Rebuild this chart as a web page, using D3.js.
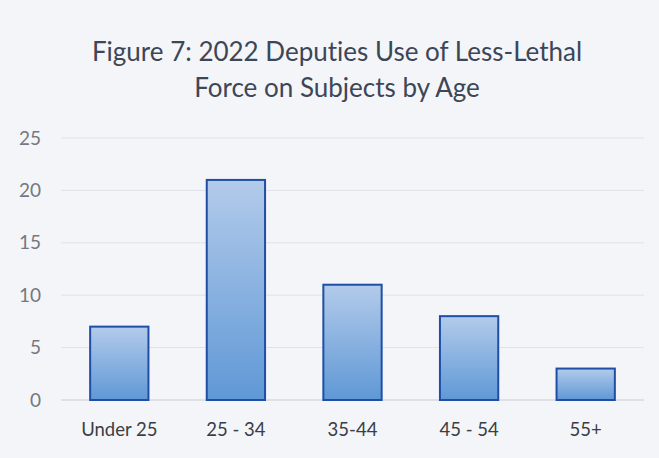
<!DOCTYPE html>
<html>
<head>
<meta charset="utf-8">
<script src="https://cdn.jsdelivr.net/npm/d3@7"></script>
<style>
  html, body { margin: 0; padding: 0; background: #f4f5f8; }
  svg { display: block; }
  text { font-variant-ligatures: none; }
</style>
</head>
<body>
<svg width="659" height="458"></svg>
<script>
const ageGroups = ["Under 25", "25 - 34", "35-44", "45 - 54", "55+"];
const subjects = [7, 21, 11, 8, 3];
const yTicks = [0, 5, 10, 15, 20, 25];
const titleLines = ["Figure 7: 2022 Deputies Use of Less-Lethal", "Force on Subjects by Age"];

const svg = d3.select("svg");
const font = "Lato, 'Open Sans', sans-serif";

svg.append("rect")
  .attr("width", 659).attr("height", 458)
  .attr("fill", "#f4f5f8");

// bar gradient, light at the top and deeper at the bottom
const grad = svg.append("defs").append("linearGradient")
  .attr("id", "barFill")
  .attr("x1", 0).attr("y1", 0).attr("x2", 0).attr("y2", 1);
grad.append("stop").attr("offset", "0%").attr("stop-color", "#b3cbea");
grad.append("stop").attr("offset", "100%").attr("stop-color", "#5f98d6");

const x = d3.scaleBand()
  .domain(ageGroups)
  .range([61, 644])
  .paddingInner(0.5)
  .paddingOuter(0.25);

const y = d3.scaleLinear()
  .domain([0, 25])
  .range([400, 138]);

// gridlines
svg.append("g")
  .selectAll("line")
  .data(yTicks)
  .join("line")
  .attr("x1", 61).attr("x2", 644)
  .attr("y1", (d) => y(d)).attr("y2", (d) => y(d))
  .attr("stroke", (d) => (d === 0 ? "#c9ccd4" : "#dfe2e8"))
  .attr("stroke-width", 1);

// y axis labels
const yAxis = svg.append("g")
  .attr("transform", "translate(41,0)")
  .call(d3.axisLeft(y).tickValues(yTicks).tickSize(0).tickPadding(0));
yAxis.select(".domain").remove();
yAxis.selectAll("text")
  .attr("font-family", font)
  .attr("font-size", 19)
  .attr("fill", "#74787f");

// x axis labels
const xAxis = svg.append("g")
  .attr("transform", "translate(0,423)")
  .call(d3.axisBottom(x).tickSize(0).tickPadding(0));
xAxis.select(".domain").remove();
xAxis.selectAll("text")
  .attr("font-family", font)
  .attr("font-size", 18.5)
  .attr("fill", "#3a3d45");

// bars
svg.append("g")
  .selectAll("rect")
  .data(subjects)
  .join("rect")
  .attr("x", (d, i) => x(ageGroups[i]))
  .attr("width", x.bandwidth())
  .attr("y", (d) => y(d))
  .attr("height", (d) => y(0) - y(d))
  .attr("fill", "url(#barFill)")
  .attr("stroke", "#1f4ea6")
  .attr("stroke-width", 2);

// title
svg.append("g")
  .selectAll("text")
  .data(titleLines)
  .join("text")
  .attr("x", 337)
  .attr("y", (d, i) => 61 + i * 36)
  .attr("text-anchor", "middle")
  .attr("font-family", font)
  .attr("font-size", 26)
  .attr("fill", "#3d4657")
  .text((d) => d);
</script>
</body>
</html>
